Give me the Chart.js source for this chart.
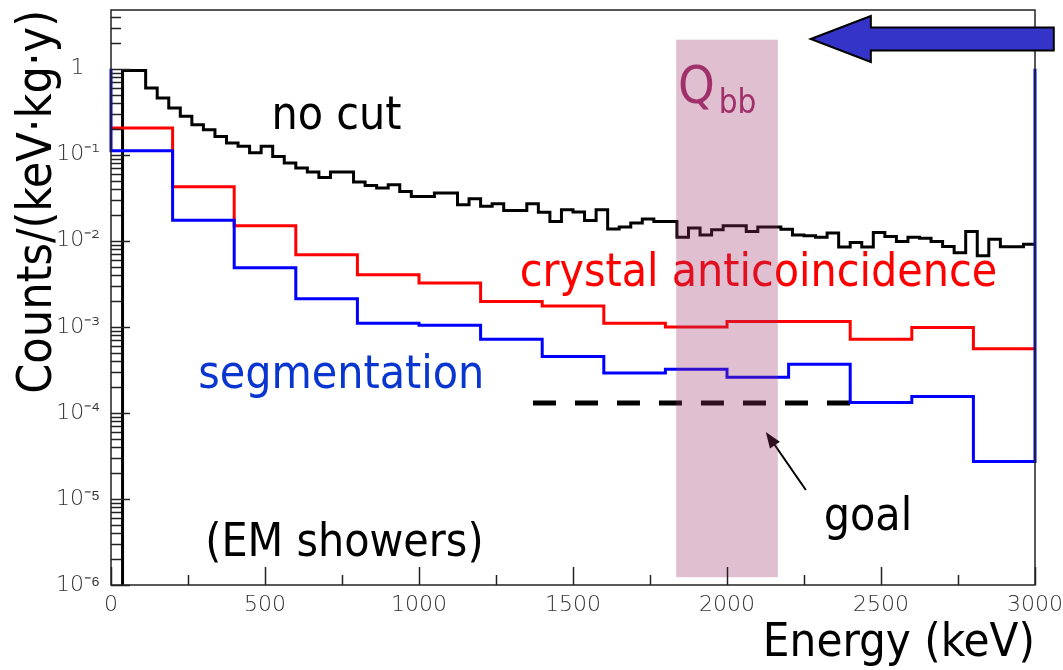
<!DOCTYPE html>
<html>
<head>
<meta charset="utf-8">
<title>Counts vs Energy</title>
<script src="https://cdn.jsdelivr.net/npm/chart.js@4.4.1/dist/chart.umd.min.js"></script>
<style>
  html, body { margin: 0; padding: 0; background: #fff; }
  #chart { display: block; }
</style>
</head>
<body>
<canvas id="chart" width="1063" height="670"></canvas>
<script>
// coarse 200 keV bins (edges in keV)
const coarseEdges = [0, 200, 400, 600, 800, 1000, 1200, 1400, 1600, 1800, 2000, 2200, 2400, 2600, 2800, 3000];
const crystalAnti = [0.204, 0.0423, 0.0149, 0.00687, 0.00403, 0.00322, 0.00197, 0.00175, 0.00110, 0.000993, 0.00115, 0.00115, 0.000719, 0.00098, 0.000555];
const segmentation = [0.111, 0.0173, 0.00485, 0.00212, 0.00110, 0.00104, 0.000719, 0.000452, 0.000290, 0.000322, 0.000260, 0.000368, 0.000132, 0.000155, 0.0000272];

// "no cut" spectrum, 37.5 keV bins, first bin empty
const noCutBinWidth = 37.5;
const noCut = [
  null, 0.948, 0.948, 0.597, 0.456, 0.349, 0.279, 0.223, 0.195, 0.163,
  0.137, 0.125, 0.105, 0.125, 0.0955, 0.080, 0.070, 0.063, 0.0545, 0.063,
  0.063, 0.0482, 0.044, 0.041, 0.0448, 0.0374, 0.0327, 0.0327, 0.0359, 0.0359,
  0.0262, 0.0308, 0.0251, 0.0269, 0.0225, 0.0225, 0.0269, 0.0214, 0.0167, 0.0229,
  0.0216, 0.0172, 0.0229, 0.0137, 0.0144, 0.0161, 0.0179, 0.0167, 0.0167, 0.0110,
  0.0141, 0.0117, 0.0134, 0.0149, 0.0149, 0.0128, 0.0144, 0.0144, 0.0136, 0.0117,
  0.0114, 0.0110, 0.0123, 0.00846, 0.00955, 0.00846, 0.0125, 0.0112, 0.0098, 0.0110,
  0.0107, 0.0098, 0.0086, 0.00724, 0.0128, 0.0067, 0.0104, 0.0085, 0.0085, 0.0091
];

// goal level and Q_bb window
const goalLevel = 1.3e-4;
const goalRange = [1370, 2400];
const qbbBand = [1835, 2165];
const qbbBandY = [1.23e-6, 2.17];

const xRange = [0, 3000];
const yRange = [1e-6, 4.8];

const BIG = "'DejaVu Sans Condensed', 'DejaVu Sans', sans-serif";
const SMALL = "'DejaVu Sans', sans-serif";

// text annotations, anchored in data units (left edge, baseline)
const notes = [
  { text: 'no cut', x: 521, y: 0.199, color: '#000000' },
  { text: 'crystal anticoincidence', x: 1327, y: 0.00298, color: '#ff0000' },
  { text: 'segmentation', x: 283, y: 1.95e-4, color: '#0a36d0' },
  { text: 'goal', x: 2314, y: 4.36e-6, color: '#000000' },
  { text: '(EM showers)', x: 306, y: 2.17e-6, color: '#000000' }
];

// histogram -> step points (last edge repeats the last value)
function histPoints(edges, vals) {
  const pts = vals.map((v, i) => ({ x: edges[i], y: v }));
  pts.push({ x: edges[edges.length - 1], y: vals[vals.length - 1] });
  return pts;
}

const segPts = histPoints(coarseEdges, segmentation);
// segmentation histogram is closed up to 1 on both sides
segPts.unshift({ x: 0, y: 1 });
segPts.push({ x: 3000, y: 1 });

const noCutEdges = noCut.map((v, i) => i * noCutBinWidth).concat([3000]);
const noCutPts = [{ x: noCutEdges[1], y: yRange[0] }];
noCut.forEach((v, i) => { if (v !== null) noCutPts.push({ x: noCutEdges[i], y: v }); });
noCutPts.push({ x: 3000, y: noCut[noCut.length - 1] });

const SUP = { '-': '\u207B', '0': '\u2070', '1': '\u00B9', '2': '\u00B2', '3': '\u00B3', '4': '\u2074', '5': '\u2075', '6': '\u2076', '7': '\u2077', '8': '\u2078', '9': '\u2079' };

function line(ctx, x0, y0, x1, y1) {
  ctx.beginPath(); ctx.moveTo(x0, y0); ctx.lineTo(x1, y1); ctx.stroke();
}

const rootStyle = {
  id: 'rootStyle',
  afterDatasetsDraw(chart) {
    const { ctx, chartArea: a } = chart;
    const sx = chart.scales.x, sy = chart.scales.y;
    ctx.save();

    // labels
    ctx.textBaseline = 'alphabetic';
    ctx.textAlign = 'left';
    ctx.font = '46px ' + BIG;
    notes.forEach(n => {
      ctx.fillStyle = n.color;
      ctx.fillText(n.text, sx.getPixelForValue(n.x), sy.getPixelForValue(n.y));
    });

    // arrow pointing at the goal line
    const tipX = sx.getPixelForValue(2126), tipY = sy.getPixelForValue(6.0e-5);
    const tailX = sx.getPixelForValue(2256), tailY = sy.getPixelForValue(1.27e-5);
    const ang = Math.atan2(tipY - tailY, tipX - tailX);
    ctx.strokeStyle = '#000'; ctx.fillStyle = '#000'; ctx.lineWidth = 2;
    line(ctx, tailX, tailY, tipX - 10 * Math.cos(ang), tipY - 10 * Math.sin(ang));
    ctx.beginPath();
    ctx.moveTo(tipX, tipY);
    ctx.lineTo(tipX - 16 * Math.cos(ang) + 6 * Math.sin(ang), tipY - 16 * Math.sin(ang) - 6 * Math.cos(ang));
    ctx.lineTo(tipX - 16 * Math.cos(ang) - 6 * Math.sin(ang), tipY - 16 * Math.sin(ang) + 6 * Math.cos(ang));
    ctx.closePath(); ctx.fill();

    // Q_bb window (translucent, over everything)
    const bx0 = sx.getPixelForValue(qbbBand[0]), bx1 = sx.getPixelForValue(qbbBand[1]);
    const by0 = sy.getPixelForValue(qbbBandY[1]), by1 = sy.getPixelForValue(qbbBandY[0]);
    ctx.fillStyle = 'rgba(155, 52, 103, 0.31)';
    ctx.fillRect(bx0, by0, bx1 - bx0, by1 - by0);

    ctx.fillStyle = '#a0306a';
    ctx.font = '52px ' + BIG;
    ctx.fillText('Q', sx.getPixelForValue(1841), sy.getPixelForValue(0.399));
    ctx.font = '33px ' + BIG;
    ctx.fillText('bb', sx.getPixelForValue(1973), sy.getPixelForValue(0.305));

    // frame and inward ticks
    ctx.strokeStyle = '#222'; ctx.lineWidth = 1.5;
    ctx.strokeRect(a.left, a.top, a.right - a.left, a.bottom - a.top);
    for (let e = -6; e <= 0; e++) {
      for (let m = 1; m <= 9; m++) {
        const v = m * Math.pow(10, e);
        if (v > yRange[1]) break;
        const py = Math.round(sy.getPixelForValue(v)) + 0.5;
        line(ctx, a.left, py, a.left + (m === 1 ? 19 : 10), py);
      }
    }
    for (let v = xRange[0]; v <= xRange[1]; v += 250) {
      const px = Math.round(sx.getPixelForValue(v)) + 0.5;
      line(ctx, px, a.bottom, px, a.bottom - (v % 500 === 0 ? 18 : 10));
    }

    // big blue arrow at the top right
    const aTip = sx.getPixelForValue(2272), aHead = sx.getPixelForValue(2467), aEnd = sx.getPixelForValue(3061);
    const aY = sy.getPixelForValue(2.21);
    ctx.beginPath();
    ctx.moveTo(aTip, aY);
    ctx.lineTo(aHead, aY - 23);
    ctx.lineTo(aHead, aY - 11.5);
    ctx.lineTo(aEnd, aY - 11.5);
    ctx.lineTo(aEnd, aY + 11.5);
    ctx.lineTo(aHead, aY + 11.5);
    ctx.lineTo(aHead, aY + 23);
    ctx.closePath();
    ctx.fillStyle = '#3434c8'; ctx.fill();
    ctx.strokeStyle = '#000'; ctx.lineWidth = 2; ctx.lineJoin = 'miter'; ctx.stroke();

    ctx.restore();
  }
};

// keep label overhang from shrinking the plot frame
function noOverhang(s) {
  s.paddingTop = 0; s.paddingBottom = 0; s.paddingLeft = 0; s.paddingRight = 0;
}

const stepStyle = { borderWidth: 3, pointRadius: 0, stepped: true, fill: false, tension: 0, clip: 4, borderJoinStyle: 'miter' };

new Chart(document.getElementById('chart'), {
  type: 'line',
  data: {
    datasets: [
      Object.assign({ label: 'segmentation', data: segPts, borderColor: '#0000ff' }, stepStyle),
      Object.assign({ label: 'crystal anticoincidence', data: histPoints(coarseEdges, crystalAnti), borderColor: '#ff0000' }, stepStyle),
      Object.assign({ label: 'no cut', data: noCutPts, borderColor: '#000000' }, stepStyle),
      {
        label: 'goal',
        data: [{ x: goalRange[0], y: goalLevel }, { x: goalRange[1], y: goalLevel }],
        borderColor: '#000000', borderWidth: 5, borderDash: [23, 19], pointRadius: 0, fill: false
      }
    ]
  },
  options: {
    responsive: false,
    animation: false,
    layout: { padding: { top: 10, right: 28, left: 0, bottom: 0 } },
    plugins: { legend: { display: false }, tooltip: { enabled: false } },
    scales: {
      x: {
        type: 'linear',
        min: xRange[0], max: xRange[1],
        grid: { display: false, drawTicks: false },
        border: { display: false },
        ticks: {
          stepSize: 500, autoSkip: false, maxRotation: 0, padding: 7,
          color: '#333', font: { family: SMALL, size: 22, weight: '200' },
          callback: v => String(v)
        },
        title: {
          display: true, text: 'Energy (keV)', align: 'end', color: '#000',
          font: { family: BIG, size: 47, lineHeight: 1 },
          padding: { top: 0, bottom: 3 }
        },
        afterFit: s => { s.height = 85; noOverhang(s); }
      },
      y: {
        type: 'logarithmic',
        min: yRange[0], max: yRange[1],
        grid: { display: false, drawTicks: false },
        border: { display: false },
        ticks: {
          autoSkip: false, padding: 11,
          color: '#333', font: { family: SMALL, size: 22, weight: '200' },
          callback: v => {
            const e = Math.log10(v);
            if (Math.abs(e - Math.round(e)) > 1e-6) return '';
            const n = Math.round(e);
            // "1" lines up with the "10" of the other labels
            if (n === 0) return '1\u2002\u2009';
            return '10' + String(n).split('').map(c => SUP[c]).join('');
          }
        },
        title: {
          display: true, text: 'Counts/(keV\u00B7kg\u00B7y)', align: 'end', color: '#000',
          font: { family: BIG, size: 48, lineHeight: 1 },
          padding: { top: 15, bottom: 0 }
        },
        afterFit: s => { s.width = 111; noOverhang(s); }
      }
    }
  },
  plugins: [rootStyle]
});
</script>
</body>
</html>
